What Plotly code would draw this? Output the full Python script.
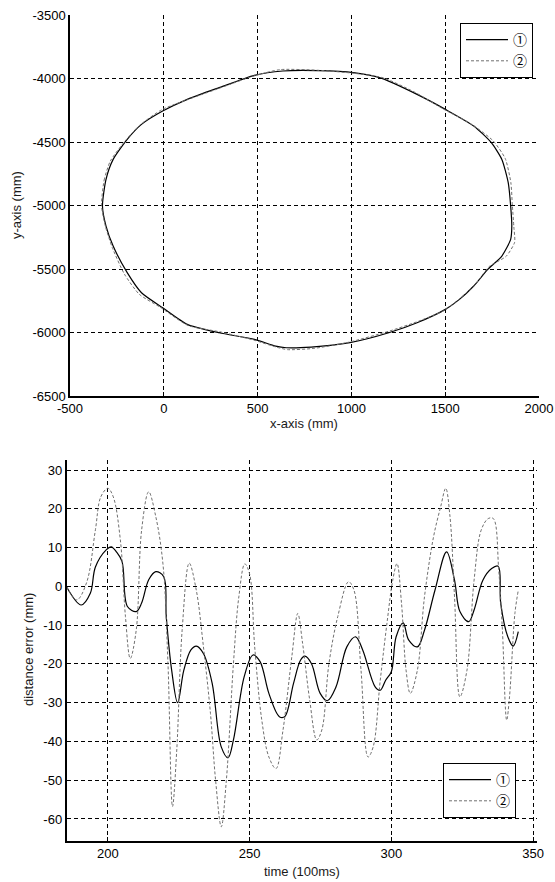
import plotly.graph_objects as go

# ---- top chart: trajectory (mm) ----
traj1_x = [-327, -308, -270, -195, -119, -6, 125, 295, 483, 634, 823, 1011, 1162, 1350, 1501, 1652,
           1746, 1802, 1836, 1849, 1855, 1849, 1802, 1727, 1652, 1576, 1501, 1350, 1199, 992, 785,
           653, 596, 483, 295, 125, -6, -119, -195, -270, -308, -327]
traj1_y = [-5004, -4794, -4637, -4479, -4361, -4256, -4164, -4072, -3975, -3941, -3938, -3954, -3999,
           -4125, -4243, -4374, -4505, -4637, -4820, -5004, -5162, -5267, -5398, -5503, -5634, -5739,
           -5818, -5923, -6002, -6080, -6115, -6120, -6107, -6054, -6002, -5936, -5805, -5687, -5529,
           -5319, -5162, -5004]
traj2_x = [-332, -318, -285, -205, -130, -10, 120, 290, 480, 620, 820, 1020, 1170, 1340, 1490, 1640,
           1755, 1820, 1850, 1858, 1866, 1870, 1825, 1735, 1660, 1580, 1490, 1360, 1200, 990, 800,
           660, 600, 480, 300, 130, -20, -130, -210, -275, -312, -332]
traj2_y = [-5000, -4800, -4650, -4490, -4370, -4245, -4170, -4080, -3980, -3930, -3935, -3960, -3995,
           -4110, -4240, -4360, -4490, -4630, -4820, -5000, -5170, -5290, -5400, -5480, -5620, -5730,
           -5830, -5910, -5990, -6075, -6125, -6135, -6115, -6060, -5995, -5945, -5800, -5700, -5540,
           -5330, -5160, -5000]

# ---- bottom chart: distance error (mm) vs time (100ms) ----
t1 = [185.4, 190.6, 193.8, 195.6, 199.4, 201.2, 203.0, 205.0, 206.9, 210.0, 211.9, 214.4, 216.9,
      219.7, 220.6, 222.5, 224.6, 226.8, 229.3, 231.2, 233.7, 236.8, 240.0, 242.4, 244.3, 248.1,
      251.2, 253.7, 256.8, 260.5, 262.4, 265.5, 268.0, 269.5, 271.8, 274.9, 277.4, 280.5, 284.3,
      287.4, 289.9, 294.3, 296.1, 298.0, 300.0, 301.7, 304.2, 306.1, 309.2, 311.7, 315.4, 319.5,
      322.3, 324.2, 327.3, 329.2, 332.3, 335.4, 337.7, 338.6, 341.1, 343.0, 344.8]
err1 = [-0.1, -4.8, -1.8, 5.0, 9.4, 10.2, 8.9, 6.4, -5.2, -6.5, -4.3, 1.7, 3.8,
        2.5, -7.8, -21.6, -30.0, -21.6, -16.4, -15.4, -17.3, -25.0, -41.4, -44.2, -39.6, -23.3,
        -17.7, -19.4, -27.6, -33.6, -33.6, -25.0, -19.0, -18.0, -19.9, -27.6, -29.5, -25.9, -15.6,
        -13.0, -16.4, -25.9, -26.8, -24.2, -22.0, -13.0, -9.4, -13.8, -15.6, -11.3, -1.0, 8.9,
        1.6, -6.5, -9.1, -6.1, 1.6, 4.6, 5.2, -4.4, -13.0, -15.4, -11.7]
t2 = [185.4, 189.0, 192.5, 195.6, 197.5, 200.0, 201.9, 204.4, 206.2, 207.9, 210.0, 211.9, 214.4,
      216.9, 219.4, 221.2, 222.8, 224.3, 226.2, 228.7, 231.2, 233.7, 236.2, 238.0, 240.0, 241.8,
      244.3, 246.2, 248.3, 250.0, 251.8, 254.3, 256.8, 259.3, 261.8, 264.9, 267.0, 268.7, 271.2,
      273.7, 275.5, 278.0, 281.1, 284.9, 286.8, 289.3, 291.8, 293.6, 296.1, 298.6, 300.5, 302.0,
      303.6, 305.2, 306.7, 309.2, 311.7, 314.9, 317.4, 319.2, 320.7, 322.3, 324.2, 326.7, 329.2,
      331.7, 334.2, 336.0, 337.9, 339.2, 340.7, 341.7, 343.6, 344.8]
err2 = [0.0, -3.5, 1.0, 14.6, 23.1, 25.3, 23.1, 12.0, -7.8, -18.6, -11.3, 14.5, 24.4,
        18.0, 6.0, -19.9, -56.8, -42.2, -11.3, 6.0, -1.0, -15.5, -32.8, -50.0, -62.0, -50.0,
        -19.9, -2.7, 5.8, 3.2, -15.6, -34.5, -44.0, -47.0, -37.0, -18.1, -7.0, -14.7, -29.3,
        -39.6, -37.0, -19.9, -7.8, 1.2, -0.9, -21.5, -44.0, -41.4, -24.2, -8.7, 1.6, 5.9,
        -4.4, -21.6, -27.6, -21.6, -2.7, 12.8, 20.5, 25.3, 18.0, -2.7, -28.5, -21.6, 1.6,
        14.5, 17.5, 17.5, 4.2, -11.3, -34.5, -28.5, -7.0, -1.0]

names = ["\u2460", "\u2461"]
x_ticks_top = [-500, 0, 500, 1000, 1500, 2000]
y_ticks_top = [-6500, -6000, -5500, -5000, -4500, -4000, -3500]
x_ticks_bot = [200, 250, 300, 350]
y_ticks_bot = [-60, -50, -40, -30, -20, -10, 0, 10, 20, 30]


def labels(vals):
    return [str(v) for v in vals]  # plain hyphen-minus like the original


W, H = 555, 882
FONT = "Arial, Liberation Sans, Noto Sans CJK SC, sans-serif"
FS = 13

fig = go.Figure()
solid = dict(color="black", width=1.2)
dashed = dict(color="#707070", width=1, dash="3px,2px")

fig.add_trace(go.Scatter(x=traj1_x, y=traj1_y, mode="lines", name=names[0], line=solid,
                         xaxis="x", yaxis="y", legend="legend", line_shape="spline",
                         line_smoothing=0.6))
fig.add_trace(go.Scatter(x=traj2_x, y=traj2_y, mode="lines", name=names[1], line=dashed,
                         xaxis="x", yaxis="y", legend="legend", line_shape="spline",
                         line_smoothing=0.6))
fig.add_trace(go.Scatter(x=t1, y=err1, mode="lines", name=names[0], line=solid,
                         xaxis="x2", yaxis="y2", legend="legend2", line_shape="spline"))
fig.add_trace(go.Scatter(x=t2, y=err2, mode="lines", name=names[1], line=dashed,
                         xaxis="x2", yaxis="y2", legend="legend2", line_shape="spline"))

grid = dict(showgrid=True, gridcolor="black", gridwidth=1, griddash="4px,3px",
            zeroline=False, showline=True, linecolor="black", linewidth=1.5,
            ticks="inside", ticklen=4, tickcolor="black", automargin=False,
            ticklabeloverflow="allow",
            tickfont=dict(family=FONT, size=FS, color="black"))

ann_font = dict(family=FONT, size=FS, color="#1a1a1a")

fig.update_layout(
    width=W, height=H,
    margin=dict(l=0, r=0, t=0, b=0),
    paper_bgcolor="white", plot_bgcolor="white",
    font=dict(family=FONT, size=FS, color="black"),
    xaxis=dict(domain=[70/W, 539/W], range=[-500, 2000], tickvals=x_ticks_top,
               ticktext=labels(x_ticks_top), anchor="y", **grid),
    yaxis=dict(domain=[1-396/H, 1-15/H], range=[-6500, -3500], tickvals=y_ticks_top,
               ticktext=labels(y_ticks_top), anchor="x", **grid),
    xaxis2=dict(domain=[66.5/W, 537/W], range=[185.4, 351.4], tickvals=x_ticks_bot,
                ticktext=labels(x_ticks_bot), anchor="y2", **grid),
    yaxis2=dict(domain=[1-840.7/H, 1-460/H], range=[-65.6, 32.6], tickvals=y_ticks_bot,
                ticktext=labels(y_ticks_bot), anchor="x2", **grid),
    legend=dict(x=533/W, y=1-23/H, xanchor="right", yanchor="top", bgcolor="white",
                bordercolor="black", borderwidth=1, font=dict(family=FONT, size=14),
                tracegroupgap=0, itemwidth=42),
    legend2=dict(x=516/W, y=1-763/H, xanchor="right", yanchor="top", bgcolor="white",
                 bordercolor="black", borderwidth=1, font=dict(family=FONT, size=14),
                 tracegroupgap=0, itemwidth=42),
    showlegend=True,
    annotations=[
        dict(text="x-axis (mm)", x=304.5/W, y=1-424/H, xref="paper", yref="paper",
             xanchor="center", yanchor="middle", showarrow=False, font=ann_font),
        dict(text="y-axis (mm)", x=16/W, y=1-205/H, xref="paper", yref="paper", textangle=-90,
             xanchor="center", yanchor="middle", showarrow=False, font=ann_font),
        dict(text="time (100ms)", x=302/W, y=1-871/H, xref="paper", yref="paper",
             xanchor="center", yanchor="middle", showarrow=False, font=ann_font),
        dict(text="distance error (mm)", x=28/W, y=1-650/H, xref="paper", yref="paper",
             textangle=-90, xanchor="center", yanchor="middle", showarrow=False, font=ann_font),
    ],
)

fig.write_html("out.html", config={"displayModeBar": False},
               post_script="document.body.style.margin='0';document.body.style.overflow='hidden';")
